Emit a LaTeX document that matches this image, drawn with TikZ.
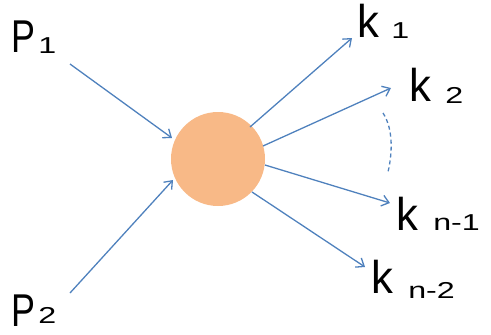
\documentclass[tikz,border=0pt]{standalone}
\usepackage{fontspec}
\setmainfont{Liberation Sans}
\usetikzlibrary{arrows.meta}
\definecolor{lineblue}{RGB}{79,129,189}
\definecolor{blobfill}{RGB}{248,185,135}
\tikzset{
  flow/.style={draw=lineblue, line width=1.3pt, -{Straight Barb[length=7pt,width=11pt,line width=1.3pt]}},
  big/.style={font=\fontsize{46}{46}\selectfont},
  sub/.style={font=\fontsize{23}{23}\selectfont, xscale=1.4, transform shape},
  lbl/.style={inner sep=0pt, anchor=base west},
}
\begin{document}
\begin{tikzpicture}[x=1pt,y=-1pt]
\useasboundingbox (0,0) rectangle (491,335);

% interaction vertex
\node[circle, fill=blobfill, minimum size=94pt, inner sep=0pt] (v) at (218,159) {};

% particle labels
\node[lbl,big,xscale=0.78,transform shape] (p1) at (11,52) {P};
\node[lbl,sub] (p1s) at (38,53) {1};
\node[lbl,big,xscale=0.78,transform shape] (p2) at (11,326) {P};
\node[lbl,sub] (p2s) at (38,323) {2};

\node[lbl,big,xscale=0.95,transform shape] (k1) at (357,37) {k};
\node[lbl,sub] (k1s) at (391,38) {1};
\node[lbl,big,xscale=0.95,transform shape] (k2) at (409,101) {k};
\node[lbl,sub] (k2s) at (445,103) {2};
\node[lbl,big,xscale=0.95,transform shape] (kn1) at (396,230) {k};
\node[lbl,sub] (kn1s) at (433,230) {n-1};
\node[lbl,big,xscale=0.95,transform shape] (kn2) at (371,293) {k};
\node[lbl,sub] (kn2s) at (408,298) {n-2};

% arrow end points
\coordinate (a1) at (70,64);   \coordinate (b1) at (172,138);
\coordinate (a2) at (70,293);  \coordinate (b2) at (173,180);
\coordinate (c1) at (250,127); \coordinate (d1) at (352,38);
\coordinate (c2) at (263,146); \coordinate (d2) at (391,88);
\coordinate (c3) at (265,165); \coordinate (d3) at (390,203);
\coordinate (c4) at (252,192); \coordinate (d4) at (365,267);

% incoming and outgoing momenta
\draw[flow] (a1) -- (b1);
\draw[flow] (a2) -- (b2);
\draw[flow] (c1) -- (d1);
\draw[flow] (c2) -- (d2);
\draw[flow] (c3) -- (d3);
\draw[flow] (c4) -- (d4);

% ellipsis between k_2 and k_{n-1}
\coordinate (e1) at (383,113);
\coordinate (e2) at (388,172);
\draw[lineblue, line width=1.3pt, dash pattern=on 4pt off 3pt]
  (e1) .. controls (394,130) and (392,155) .. (e2);
\end{tikzpicture}
\end{document}
